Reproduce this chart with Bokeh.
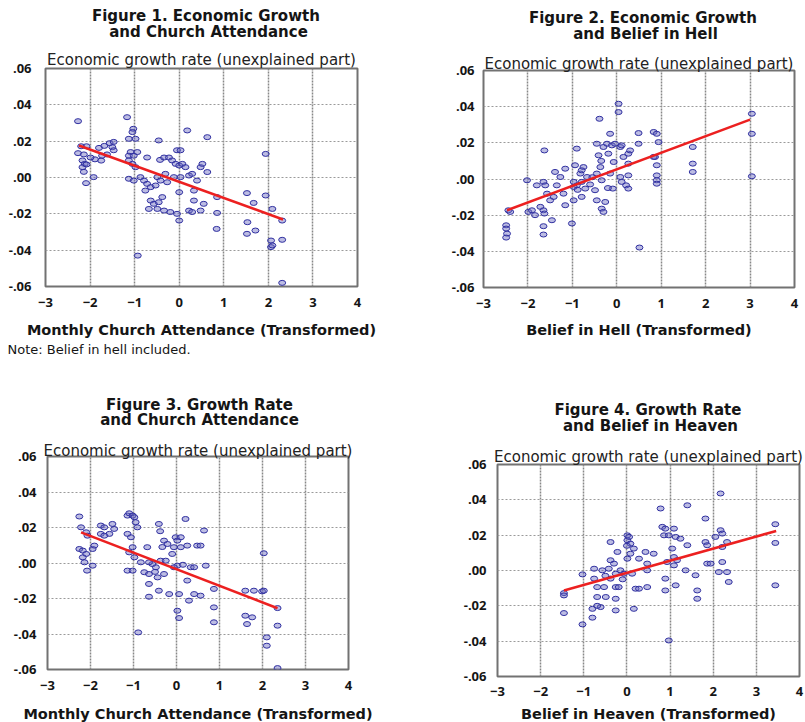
from bokeh.plotting import figure
from bokeh.models import Range1d, FixedTicker, CustomJSTickFormatter, Label, LinearAxis, Title
from bokeh.layouts import column, row
from bokeh.embed import file_html
from bokeh.resources import INLINE

X_TICKS = [-3, -2, -1, 0, 1, 2, 3, 4]
Y_TICKS = [-0.06, -0.04, -0.02, 0.0, 0.02, 0.04, 0.06]
Y_LABEL = "Economic growth rate (unexplained part)"

# Figure 1: growth vs monthly church attendance (belief in hell included)
fig1_points = [
    (-2.27, 0.031), (-2.20, 0.0172), (-2.08, 0.0172), (-2.27, 0.0134), (-2.14, 0.0127), (-2.17, 0.0094),
    (-2.12, 0.0075), (-2.17, 0.0057), (-2.08, 0.0072), (-2.14, 0.0031), (-2.09, -0.0031), (-1.92, 0.0002),
    (-1.89, 0.010), (-1.75, 0.0093), (-1.80, 0.0163), (-1.68, 0.0174), (-1.56, 0.0189), (-1.47, 0.0196),
    (-1.50, 0.0167), (-1.62, 0.0127), (-1.73, 0.012), (-1.99, 0.011), (-1.47, 0.015),
    (-1.17, 0.0332), (-1.03, 0.0268), (-1.05, 0.025), (-1.13, 0.0213), (-0.98, 0.0213), (-1.09, 0.014),
    (-1.13, 0.012), (-1.02, 0.012), (-0.94, 0.014), (-1.13, 0.0094), (-1.05, 0.0075), (-1.13, -0.0007),
    (-1.02, -0.0017), (-0.98, 0.0057), (-0.93, -0.043), (-0.72, 0.011), (-0.87, 0.0002), (-0.79, -0.0017),
    (-0.72, -0.0035), (-0.64, -0.0053), (-0.76, -0.0072), (-0.64, -0.0127), (-0.68, -0.0173), (-0.57, -0.0145),
    (-0.46, 0.0204), (-0.43, 0.0097), (-0.34, 0.011), (-0.49, 0.0002), (-0.42, -0.0017), (-0.31, 0.002),
    (-0.27, -0.0026), (-0.53, -0.0044), (-0.38, -0.0108), (-0.46, -0.0136), (-0.49, -0.0173), (-0.34, -0.0182),
    (-0.20, -0.019), (-0.23, 0.011), (-0.16, 0.0094), (-0.05, 0.015), (0.03, 0.015), (-0.08, 0.0075),
    (0.00, 0.0066), (0.07, 0.0075), (-0.12, 0.0002), (0.03, 0.0002), (0.00, -0.0081), (-0.05, -0.020),
    (0.00, -0.0237), (0.18, 0.0259), (0.14, 0.0057), (0.22, 0.0011), (0.29, 0.002), (0.33, -0.0072),
    (0.33, -0.0127), (0.22, -0.0182), (0.29, -0.019), (0.48, 0.0057), (0.52, 0.0075), (0.63, 0.003),
    (0.63, 0.0222), (0.48, -0.0182), (0.55, -0.0145), (0.40, -0.0017), (0.85, -0.0195), (0.84, -0.0283),
    (0.85, -0.0108), (1.52, -0.0086), (1.67, -0.014), (1.53, -0.0246), (1.52, -0.031), (1.71, -0.0292),
    (1.94, 0.013), (1.94, -0.0099), (2.09, -0.0173), (2.06, -0.0347), (2.06, -0.0383), (2.31, -0.0237),
    (2.31, -0.0343), (2.31, -0.058), (2.09, -0.0374),
]
fig1_fit_x = [-2.25, 2.33]
fig1_fit_y = [0.0176, -0.0231]

# Figure 2: growth vs belief in hell
fig2_points = [
    (-2.49, -0.0256), (-2.49, -0.0274), (-2.47, -0.0302), (-2.49, -0.0324), (-2.44, -0.0173), (-2.40, -0.0182),
    (-2.02, -0.0007), (-1.99, -0.0182), (-1.91, -0.0173), (-1.84, -0.020), (-1.80, -0.0035), (-1.72, -0.0154),
    (-1.65, -0.0016), (-1.63, 0.0158), (-1.61, -0.0035), (-1.65, -0.0173), (-1.63, -0.0191), (-1.65, -0.0261),
    (-1.65, -0.0307), (-1.57, -0.0081), (-1.50, -0.0118), (-1.46, -0.0228), (-1.42, -0.0099), (-1.39, 0.0039),
    (-1.35, -0.0035), (-1.27, 0.0011), (-1.16, 0.0057), (-1.20, -0.0081), (-1.16, -0.0145), (-1.01, -0.0246),
    (-0.97, -0.0118), (-0.94, 0.0076), (-0.90, 0.0168), (-0.90, -0.0035), (-0.82, 0.0030), (-0.79, -0.0016),
    (-0.75, 0.0066), (-0.71, -0.0053), (-0.79, -0.0099), (-0.97, -0.0044), (-0.67, 0.0011), (-0.45, 0.0030),
    (-0.49, -0.0062), (-0.45, -0.0118), (-0.39, 0.0333), (-0.45, 0.0195), (-0.41, 0.0131), (-0.37, 0.0066),
    (-0.34, -0.0007), (-0.34, -0.0164), (-0.30, -0.0182), (-0.26, -0.0127), (-0.30, 0.0177), (-0.22, 0.0195),
    (-0.19, 0.014), (-0.15, 0.0030), (-0.11, 0.0186), (-0.07, 0.0094), (-0.09, -0.0053), (-0.15, 0.025),
    (-0.04, 0.0195), (0.04, 0.0416), (0.04, 0.037), (0.08, 0.0177), (0.08, 0.0011), (0.11, 0.0186),
    (0.11, -0.0016), (0.15, 0.0122), (0.21, -0.0035), (0.26, 0.014), (0.26, 0.0085), (0.26, 0.0020),
    (0.26, -0.0053), (0.30, 0.0158), (0.49, 0.0254), (0.49, 0.0195), (0.51, -0.0379), (0.83, 0.026),
    (0.86, 0.0122), (0.90, 0.025), (0.90, 0.0076), (0.90, 0.0020), (0.90, -0.0007), (0.90, -0.0026),
    (0.94, 0.0204), (0.83, 0.0122), (1.71, 0.0177), (1.71, 0.0085), (1.71, 0.0039), (3.04, 0.0361),
    (3.04, 0.025), (3.04, 0.0015), (-0.97, -0.0016), (-0.79, 0.0048), (-0.60, -0.0030), (-0.55, 0.0010),
    (-0.88, -0.0060), (-0.35, 0.0100), (-0.20, -0.0050),
]
fig2_fit_x = [-2.47, 3.00]
fig2_fit_y = [-0.0173, 0.0328]

# Figure 3: growth rate vs church attendance
fig3_points = [
    (-2.26, 0.0262), (-2.22, 0.0201), (-2.10, 0.0173), (-2.07, 0.0154), (-2.26, 0.0079), (-2.18, 0.0070),
    (-2.10, 0.0051), (-2.18, 0.0032), (-2.14, 0.0004), (-2.08, -0.0043), (-1.95, -0.0015), (-1.95, 0.0079),
    (-1.91, 0.0098), (-1.76, 0.0211), (-1.76, 0.0164), (-1.68, 0.0201), (-1.56, 0.0164), (-1.49, 0.0220),
    (-1.45, 0.0192), (-1.68, 0.0154), (-1.14, 0.0267), (-1.10, 0.0280), (-1.02, 0.0267), (-0.98, 0.0258),
    (-0.95, 0.0230), (-0.91, 0.0201), (-1.14, 0.0164), (-1.06, 0.0145), (-1.02, 0.0089), (-1.10, 0.0060),
    (-0.98, 0.0032), (-1.14, -0.0043), (-1.02, -0.0043), (-0.89, -0.0391), (-0.83, 0.0004), (-0.75, -0.0052),
    (-0.68, 0.0089), (-0.64, -0.0062), (-0.64, -0.0118), (-0.64, -0.0190), (-0.56, -0.0006), (-0.48, -0.0024),
    (-0.44, -0.0081), (-0.41, -0.0156), (-0.41, 0.0220), (-0.38, 0.0179), (-0.37, 0.0013), (-0.29, -0.0062),
    (-0.25, 0.0013), (-0.29, 0.0126), (-0.21, 0.0107), (-0.17, -0.0175), (-0.10, 0.0051), (-0.06, 0.0089),
    (-0.02, 0.0145), (0.02, 0.0126), (0.10, 0.0145), (0.10, 0.0089), (0.02, -0.0015), (0.02, -0.0269),
    (0.06, -0.0310), (0.06, -0.0175), (0.21, 0.0248), (0.25, 0.0098), (0.33, -0.0024), (0.25, -0.0099),
    (0.29, -0.0212), (0.41, -0.0024), (0.41, -0.0175), (0.48, 0.0098), (0.56, 0.0098), (0.56, -0.0184),
    (0.64, 0.0183), (0.68, -0.0015), (0.87, -0.0146), (0.87, -0.0250), (0.87, -0.0334), (1.60, -0.0156),
    (1.60, -0.0297), (1.64, -0.0344), (1.76, -0.0306), (1.80, -0.0156), (1.99, -0.0160), (2.03, -0.0156),
    (2.03, 0.0055), (2.10, -0.0419), (2.10, -0.0466), (2.35, -0.0254), (2.35, -0.0353), (2.35, -0.0592),
    (-0.64, 0.0004), (-0.06, -0.0024), (-0.33, 0.0090), (-0.50, -0.0050), (0.15, -0.0010),
]
fig3_fit_x = [-2.22, 2.35]
fig3_fit_y = [0.0173, -0.0255]

# Figure 4: growth rate vs belief in heaven
fig4_points = [
    (-1.46, -0.0128), (-1.46, -0.0141), (-1.46, -0.0241), (-1.03, -0.0022), (-1.03, -0.0305), (-0.80, -0.0267),
    (-0.80, -0.0217), (-0.76, -0.0046), (-0.76, 0.0010), (-0.69, -0.0094), (-0.69, -0.0150), (-0.61, -0.0207),
    (-0.57, 0.0001), (-0.53, -0.0094), (-0.49, -0.0150), (-0.42, 0.0010), (-0.38, 0.0161), (-0.38, 0.0058),
    (-0.38, -0.0046), (-0.30, 0.0039), (-0.26, -0.0018), (-0.26, -0.0094), (-0.26, -0.0160), (-0.26, -0.0226),
    (-0.22, 0.0105), (-0.19, -0.0094), (-0.15, 0.0001), (-0.07, -0.0018), (0.01, 0.0199), (0.01, 0.0171),
    (0.05, 0.0190), (0.08, 0.0152), (0.08, 0.0095), (0.01, 0.0067), (0.12, -0.0018), (0.16, -0.0217),
    (0.20, -0.0103), (0.28, -0.0103), (0.28, 0.0067), (0.43, 0.0105), (0.47, 0.0001), (0.47, -0.0094),
    (0.47, 0.0039), (0.78, 0.0351), (0.82, 0.0247), (0.86, 0.0199), (0.89, 0.0237), (0.97, 0.0199),
    (1.09, 0.0237), (1.13, 0.0190), (0.93, 0.0048), (0.89, -0.0046), (0.89, -0.0113), (0.97, -0.0396),
    (1.05, 0.0124), (1.09, 0.0076), (1.09, 0.0029), (1.13, -0.0084), (1.16, 0.0058), (1.24, 0.0180),
    (1.36, 0.0001), (1.40, 0.0143), (1.40, 0.0369), (1.59, -0.0027), (1.63, -0.0113), (1.63, -0.0160),
    (1.82, 0.0294), (1.82, 0.0161), (1.86, 0.0143), (1.86, 0.0039), (1.94, 0.0039), (2.05, 0.0190),
    (2.13, -0.0009), (2.17, 0.0228), (2.17, 0.0436), (2.21, 0.0209), (2.21, 0.0133), (2.21, 0.0048),
    (2.32, 0.0161), (2.32, -0.0009), (2.36, -0.0065), (3.44, 0.0262), (3.44, 0.0156), (3.44, -0.0084),
    (0.16, 0.0124), (0.62, 0.0095), (-0.69, -0.0200), (-0.50, -0.0030), (-0.10, -0.0050), (0.00, 0.0140),
]
fig4_fit_x = [-1.46, 3.46]
fig4_fit_y = [-0.0113, 0.0224]

TICK_FONT = "Open Sans"
TEXT_FONT = "DejaVu Sans"
INK = "#151515"
TOP_PAD = 24


def title_strip(W, H, left, right, items):
    """Text-only figure above a plot; its frame lines up with the plot frame below it,
    and one data unit is one canvas pixel (y grows downward)."""
    f = figure(width=W, height=H, x_range=Range1d(left, W - right), y_range=Range1d(H, 0),
               x_axis_type=None, y_axis_type=None, min_border=0,
               min_border_left=left, min_border_right=right,
               output_backend="svg", toolbar_location=None)
    f.outline_line_color = None
    f.background_fill_color = "white"
    f.border_fill_color = "white"
    for txt, x, y in items:
        f.add_layout(Label(x=x, y=y, text=txt, text_align="center", text_baseline="middle",
                           text_font=TEXT_FONT, text_font_size="15px", text_font_style="bold",
                           text_color=INK))
    return f


def make_panel(W, frame_w, frame_h, left, right, top_h, min_bottom, points, fit_x, fit_y,
               line1, line2, t_cx, t_y1, t_y2, sub_standoff,
               xlab, xlab_standoff, x_standoff, y_standoff, note=None):
    top = title_strip(W, top_h, left, right, [(line1, t_cx, t_y1), (line2, t_cx, t_y2)])

    p = figure(frame_width=frame_w, frame_height=frame_h,
               min_border_left=left, min_border_right=right,
               min_border_top=TOP_PAD, min_border_bottom=min_bottom,
               x_range=Range1d(-3, 4), y_range=Range1d(-0.06, 0.06),
               output_backend="svg", toolbar_location=None)
    p.background_fill_color = "white"
    p.border_fill_color = "white"
    p.outline_line_color = "#727272"
    p.outline_line_width = 2

    for ax in (p.xaxis[0], p.yaxis[0]):
        ax.axis_line_color = None
        ax.major_tick_line_color = None
        ax.minor_tick_line_color = None
        ax.major_tick_out = 0
        ax.major_tick_in = 0
        ax.minor_tick_out = 0
        ax.major_label_text_font = TICK_FONT
        ax.major_label_text_font_style = "bold"
        ax.major_label_text_font_size = "13px"
        ax.major_label_text_color = INK
    p.xaxis.ticker = FixedTicker(ticks=X_TICKS)
    p.yaxis.ticker = FixedTicker(ticks=Y_TICKS)
    p.xaxis.major_label_standoff = x_standoff
    p.yaxis.major_label_standoff = y_standoff
    p.yaxis.formatter = CustomJSTickFormatter(code="""
        const a = Math.abs(Math.round(tick * 100));
        const s = '.' + (a < 10 ? '0' + a : '' + a);
        return tick < -1e-9 ? '-' + s : s;
    """)
    p.xaxis.axis_label = xlab
    p.xaxis.axis_label_standoff = xlab_standoff
    p.xaxis.axis_label_text_font = TEXT_FONT
    p.xaxis.axis_label_text_font_size = "14.5px"
    p.xaxis.axis_label_text_font_style = "bold"
    p.xaxis.axis_label_text_color = INK

    # the y-variable name sits on top of the frame, as the label of a tick-less top axis
    top_axis = LinearAxis(ticker=FixedTicker(ticks=[], minor_ticks=[]), axis_label=Y_LABEL,
                          axis_label_standoff=sub_standoff, axis_line_color=None,
                          major_tick_line_color=None, minor_tick_line_color=None,
                          major_tick_out=0, major_tick_in=0, minor_tick_out=0, minor_tick_in=0,
                          major_label_text_font_size="0px",
                          axis_label_text_font=TEXT_FONT, axis_label_text_font_size="15px",
                          axis_label_text_font_style="normal", axis_label_text_color="#222222")
    p.add_layout(top_axis, "above")

    if note is not None:
        txt, ndx, nst = note
        p.add_layout(Title(text=txt, align="left", offset=ndx, standoff=nst,
                           vertical_align="middle", text_font=TEXT_FONT,
                           text_font_size="13px", text_font_style="normal",
                           text_color=INK), "below")

    p.xgrid.ticker = FixedTicker(ticks=X_TICKS)
    p.ygrid.ticker = FixedTicker(ticks=Y_TICKS)
    p.xgrid.grid_line_color = "#888888"
    p.xgrid.grid_line_width = 1.5
    p.xgrid.grid_line_dash = "2 1"
    p.ygrid.grid_line_color = "#9a9a9a"
    p.ygrid.grid_line_width = 1
    p.ygrid.grid_line_dash = "2 2"

    xs = [pt[0] for pt in points]
    ys = [pt[1] for pt in points]
    p.ellipse(xs, ys, width=7, height=5, width_units="screen", height_units="screen",
              line_color="#3030a0", line_width=1, fill_color="#6a6ac0", fill_alpha=0.45)
    p.line(fit_x, fit_y, line_color="#ec2020", line_width=2.5)
    return column(top, p)


c1 = make_panel(400, 312, 218, 45, 43, 44, 74, fig1_points, fig1_fit_x, fig1_fit_y,
                "Figure 1.  Economic Growth", "and Church Attendance", 208, 15.2, 31.0, 0,
                "Monthly Church Attendance (Transformed)", 12, 11, 14,
                note=("Note: Belief in hell included.", -38, 0))
c2 = make_panel(405, 311, 217, 83, 11, 46, 0, fig2_points, fig2_fit_x, fig2_fit_y,
                "Figure 2.  Economic Growth", "and Belief in Hell", 245, 17.8, 33.8, -2,
                "Belief in Hell (Transformed)", 11, 11, 9)
c3 = make_panel(400, 301, 213, 47, 52, 72, 0, fig3_points, fig3_fit_x, fig3_fit_y,
                "Figure 3. Growth Rate", "and Church Attendance", 199, 44.5, 59.5, -3,
                "Monthly Church Attendance (Transformed)", 13, 11, 11)
c4 = make_panel(405, 302, 212, 97, 6, 80, 0, fig4_points, fig4_fit_x, fig4_fit_y,
                "Figure 4.  Growth Rate", "and Belief in Heaven", 250, 49.5, 65.2, -1,
                "Belief in Heaven (Transformed)", 7, 10, 11)

layout = column(row(c1, c2), row(c3, c4))
open("out.html", "w").write(file_html(layout, INLINE))
